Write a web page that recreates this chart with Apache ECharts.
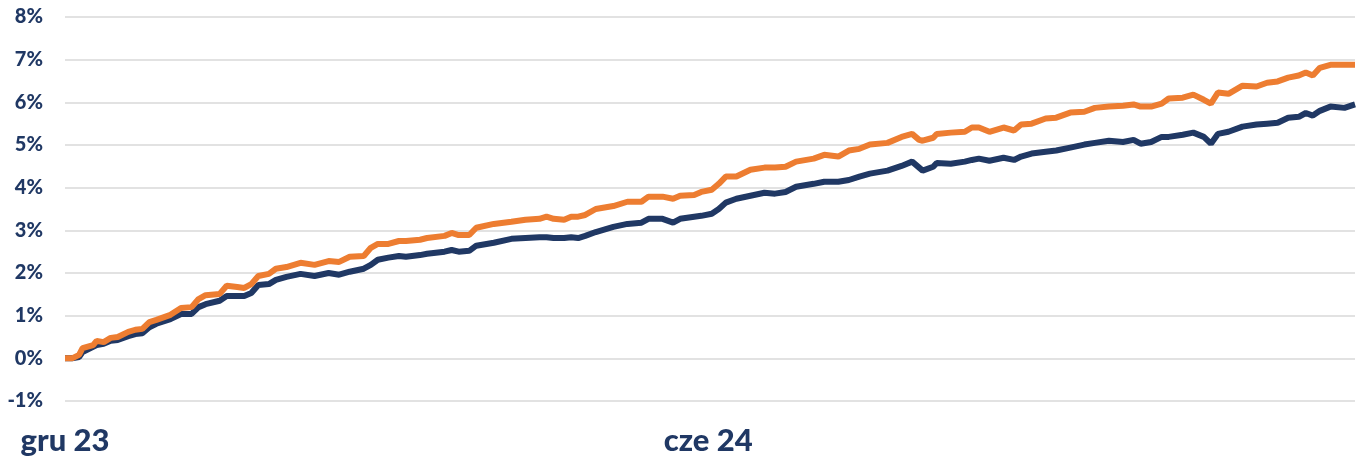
<!DOCTYPE html>
<html>
<head>
<meta charset="utf-8">
<script src="https://cdn.jsdelivr.net/npm/echarts@6/dist/echarts.min.js"></script>
<style>
html,body{margin:0;padding:0;background:#fff;}
#chart{width:1362px;height:459px;}
</style>
</head>
<body>
<div id="chart"></div>
<script>
const dates = ['2023-12-01','2023-12-03','2023-12-05','2023-12-06','2023-12-09','2023-12-10','2023-12-12','2023-12-14','2023-12-16','2023-12-19','2023-12-21','2023-12-23','2023-12-25','2023-12-27','2023-12-31',
'2024-01-03','2024-01-06','2024-01-08','2024-01-10','2024-01-14','2024-01-16','2024-01-19','2024-01-21','2024-01-23','2024-01-25','2024-01-28','2024-01-30',
'2024-02-02','2024-02-06','2024-02-10','2024-02-14','2024-02-17','2024-02-20','2024-02-24','2024-02-26','2024-02-28',
'2024-03-02','2024-03-05','2024-03-07','2024-03-11','2024-03-13','2024-03-18','2024-03-20','2024-03-22','2024-03-25','2024-03-27',
'2024-04-01','2024-04-06','2024-04-10','2024-04-14','2024-04-16','2024-04-18','2024-04-21','2024-04-23','2024-04-25','2024-04-27','2024-04-30',
'2024-05-05','2024-05-09','2024-05-13','2024-05-15','2024-05-19','2024-05-22','2024-05-24','2024-05-28','2024-05-30',
'2024-06-02','2024-06-04','2024-06-06','2024-06-09','2024-06-13','2024-06-17','2024-06-20','2024-06-23','2024-06-26',
'2024-07-01','2024-07-04','2024-07-08','2024-07-11','2024-07-14','2024-07-17','2024-07-22','2024-07-26','2024-07-29','2024-07-31',
'2024-08-01','2024-08-04','2024-08-05','2024-08-09','2024-08-13','2024-08-15','2024-08-17','2024-08-20','2024-08-24','2024-08-27','2024-08-29',
'2024-09-01','2024-09-05','2024-09-08','2024-09-12','2024-09-16','2024-09-19','2024-09-23','2024-09-27','2024-09-30',
'2024-10-02','2024-10-05','2024-10-08','2024-10-10','2024-10-14','2024-10-17','2024-10-20','2024-10-22','2024-10-24','2024-10-27','2024-10-31',
'2024-11-04','2024-11-07','2024-11-10','2024-11-13','2024-11-16','2024-11-18','2024-11-20','2024-11-22','2024-11-25','2024-11-29','2024-12-02'];

const orangeValues = [0.00,0.00,0.08,0.24,0.31,0.41,0.38,0.48,0.50,0.62,0.67,0.69,0.85,0.90,1.02,
1.18,1.20,1.39,1.48,1.51,1.70,1.67,1.65,1.74,1.93,1.98,2.10,
2.14,2.24,2.19,2.28,2.26,2.38,2.40,2.59,2.68,
2.68,2.75,2.75,2.78,2.82,2.87,2.94,2.89,2.89,3.06,
3.15,3.20,3.25,3.27,3.32,3.27,3.25,3.32,3.32,3.36,3.50,
3.57,3.67,3.67,3.79,3.79,3.74,3.81,3.83,3.90,
3.95,4.09,4.26,4.26,4.42,4.47,4.47,4.49,4.61,
4.68,4.77,4.73,4.87,4.91,5.01,5.05,5.19,5.26,5.12,
5.10,5.17,5.26,5.29,5.31,5.41,5.41,5.31,5.41,5.34,5.48,
5.50,5.62,5.64,5.76,5.78,5.87,5.90,5.92,5.95,
5.90,5.90,5.97,6.09,6.11,6.18,6.06,5.97,6.23,6.20,6.39,
6.37,6.46,6.49,6.58,6.63,6.70,6.63,6.81,6.88,6.88,6.88];

const navyValues = [0.00,0.00,0.03,0.15,0.27,0.31,0.34,0.41,0.43,0.52,0.57,0.59,0.73,0.81,0.92,
1.04,1.04,1.20,1.27,1.35,1.46,1.46,1.46,1.53,1.72,1.74,1.84,
1.91,1.98,1.93,2.00,1.96,2.03,2.10,2.19,2.31,
2.36,2.40,2.38,2.42,2.45,2.50,2.54,2.50,2.52,2.64,
2.71,2.80,2.82,2.84,2.84,2.82,2.82,2.84,2.82,2.87,2.96,
3.08,3.15,3.18,3.27,3.27,3.18,3.27,3.32,3.34,
3.39,3.50,3.65,3.74,3.81,3.88,3.86,3.90,4.02,
4.09,4.14,4.14,4.18,4.26,4.33,4.40,4.51,4.61,4.47,
4.40,4.49,4.58,4.56,4.61,4.65,4.68,4.63,4.70,4.65,4.73,
4.80,4.84,4.87,4.94,5.01,5.05,5.10,5.07,5.12,
5.03,5.07,5.19,5.19,5.24,5.29,5.19,5.03,5.26,5.31,5.43,
5.48,5.50,5.52,5.64,5.66,5.75,5.69,5.80,5.90,5.87,5.95];

const xTickDates = ['2023-12-01','2024-06-01'];
const xTickLabels = ['gru 23','cze 24'];
const xRange = ['2023-12-01','2024-12-02'];
const yTicks = [-1,0,1,2,3,4,5,6,7,8];

const textColor = '#203864';
const DAY = 86400000;
// dates -> day number (UTC based, so DST does not matter)
const toDay = s => { const p = s.split('-').map(Number); return Date.UTC(p[0], p[1]-1, p[2]) / DAY; };
const tickDays = xTickDates.map(toDay);

const chart = echarts.init(document.getElementById('chart'));
chart.setOption({
  animation: false,
  grid: {left: 65, right: 7, top: 17, bottom: 58, containLabel: false},
  xAxis: {
    type: 'value',
    min: toDay(xRange[0]),
    max: toDay(xRange[1]),
    axisLine: {show: false},
    axisTick: {show: false},
    splitLine: {show: false},
    axisLabel: {
      customValues: tickDays,
      margin: 24,
      color: textColor,
      fontFamily: 'Lato',
      fontWeight: 900,
      fontSize: 31,
      formatter: function (v) {
        const i = tickDays.indexOf(v);
        return i >= 0 ? xTickLabels[i] : '';
      }
    }
  },
  yAxis: {
    type: 'value',
    min: yTicks[0],
    max: yTicks[yTicks.length-1],
    interval: 1,
    axisLine: {show: false},
    axisTick: {show: false},
    splitLine: {lineStyle: {color: '#D9D9D9', width: 1.5}},
    axisLabel: {
      margin: 22,
      color: textColor,
      fontFamily: 'Lato',
      fontWeight: 900,
      fontSize: 20,
      formatter: '{value}%'
    }
  },
  series: [
    {
      name: 'Seria 1',
      type: 'line',
      data: dates.map((d,i) => [toDay(d), navyValues[i]]),
      showSymbol: false,
      lineStyle: {color: '#203864', width: 6},
      itemStyle: {color: '#203864'}
    },
    {
      name: 'Seria 2',
      type: 'line',
      data: dates.map((d,i) => [toDay(d), orangeValues[i]]),
      showSymbol: false,
      lineStyle: {color: '#ED7D31', width: 6},
      itemStyle: {color: '#ED7D31'}
    }
  ]
});
</script>
</body>
</html>
